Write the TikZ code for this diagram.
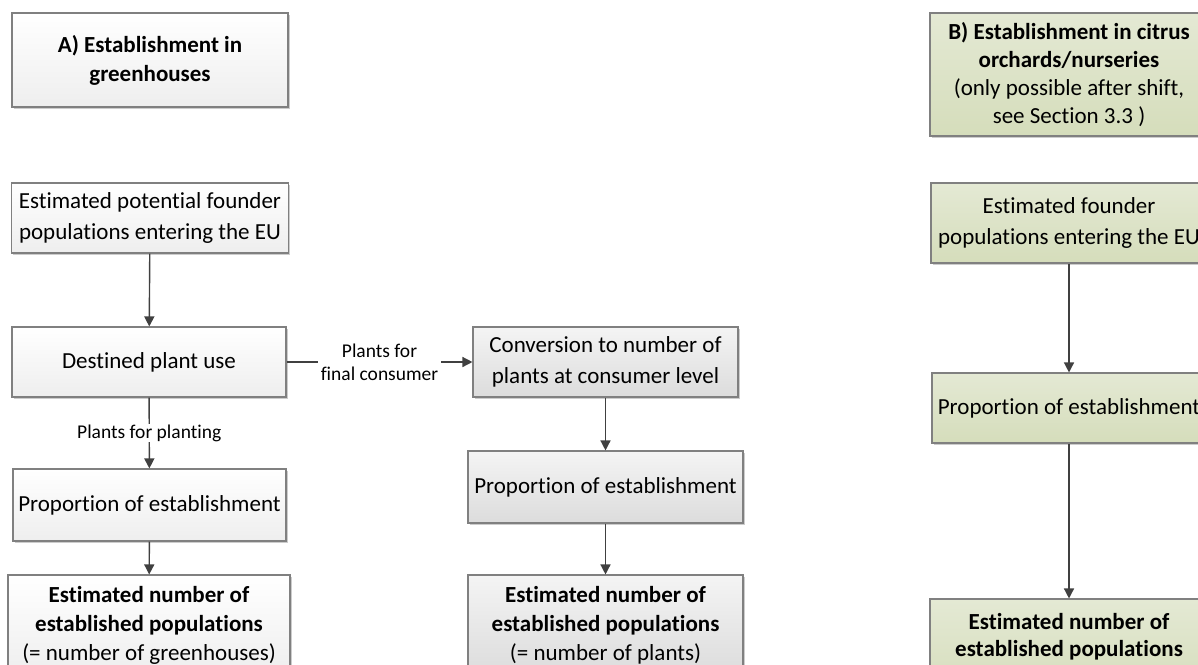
\documentclass[tikz,border=0pt]{standalone}
\usepackage{fontspec}
\setmainfont{Carlito}[Ligatures={NoCommon,NoRequired,NoContextual}]
\usetikzlibrary{arrows.meta,shadows}
\definecolor{bordc}{HTML}{808080}
\definecolor{arrc}{HTML}{404040}
\definecolor{greentop}{HTML}{E4E9D4}
\definecolor{greenbot}{HTML}{D5DDBB}
\definecolor{graytop}{HTML}{F4F4F4}
\definecolor{graybot}{HTML}{DCDCDC}
\definecolor{whitebot}{HTML}{EEEEEE}
\begin{document}
\begin{tikzpicture}[x=1pt,y=-1pt,
  box/.style={draw=bordc, line width=1.1pt, align=center, inner sep=0pt,
    font=\fontsize{23}{29}\selectfont,
    drop shadow={shadow xshift=1.5pt, shadow yshift=-1.5pt, opacity=0.2, fill=black}},
  wbox/.style={box, top color=white, bottom color=whitebot},
  gbox/.style={box, top color=graytop, bottom color=graybot},
  grbox/.style={box, top color=greentop, bottom color=greenbot},
  arr/.style={draw=arrc, line width=1.4pt, -{Triangle[width=10pt,length=10pt]}},
  lbl/.style={fill=white, align=center, inner xsep=3pt, inner ysep=1pt,
    font=\fontsize{19.5}{23}\selectfont}
]
\useasboundingbox (0,0) rectangle (1198,664);
\clip (0,0) rectangle (1198,664);

% column A
\node[wbox, minimum width=276pt, minimum height=94pt] (titleA) at (150,60)
  {\bfseries A) Establishment in\\\bfseries greenhouses};
\node[wbox, minimum width=277pt, minimum height=70pt, font=\fontsize{23}{31}\selectfont] (founderA) at (150,218)
  {Estimated potential founder\\populations entering the EU};
\node[wbox, minimum width=274pt, minimum height=70pt] (destined) at (149,362)
  {Destined plant use};
\node[wbox, minimum width=273pt, minimum height=72pt] (propA) at (149.5,505)
  {Proportion of establishment};
\node[wbox, minimum width=282pt, minimum height=100pt] (estA) at (149,625)
  {\bfseries Estimated number of\\\bfseries established populations\\(= number of greenhouses)};

% middle column
\node[gbox, minimum width=265pt, minimum height=70pt, font=\fontsize{23}{31}\selectfont] (convert) at (605.5,362)
  {Conversion to number of\\plants at consumer level};
\node[gbox, minimum width=275pt, minimum height=72pt] (propM) at (605.5,487)
  {Proportion of establishment};
\node[gbox, minimum width=275pt, minimum height=100pt] (estM) at (605.5,625)
  {\bfseries Estimated number of\\\bfseries established populations\\(= number of plants)};

% column B
\node[grbox, minimum width=278pt, minimum height=123pt, font=\fontsize{23}{28}\selectfont] (titleB) at (1069,74.5)
  {\bfseries B) Establishment in citrus\\\bfseries orchards/nurseries\\(only possible after shift,\\see Section 3.3 )};
\node[grbox, minimum width=276pt, minimum height=80pt, font=\fontsize{23}{31}\selectfont] (founderB) at (1069,223)
  {Estimated founder\\populations entering the EU};
\node[grbox, minimum width=274pt, minimum height=70pt] (propB) at (1069,408)
  {Proportion of establishment};
\node[grbox, minimum width=278pt, minimum height=98pt, font=\fontsize{23}{27}\selectfont] (estB) at (1069,648)
  {\bfseries Estimated number of\\\bfseries established populations\\\mbox{}};

% connectors
\draw[arr] (founderA) -- (destined);
\draw[arr] (destined) -- node[lbl] {Plants for planting} (propA);
\draw[arr] (propA) -- (estA);
\draw[arr] (destined) -- node[lbl] {Plants for\\final consumer} (convert);
\draw[arr] (convert) -- (propM);
\draw[arr] (propM) -- (estM);
\draw[arr] (founderB) -- (propB);
\draw[arr] (propB) -- (estB);
\end{tikzpicture}
\end{document}
